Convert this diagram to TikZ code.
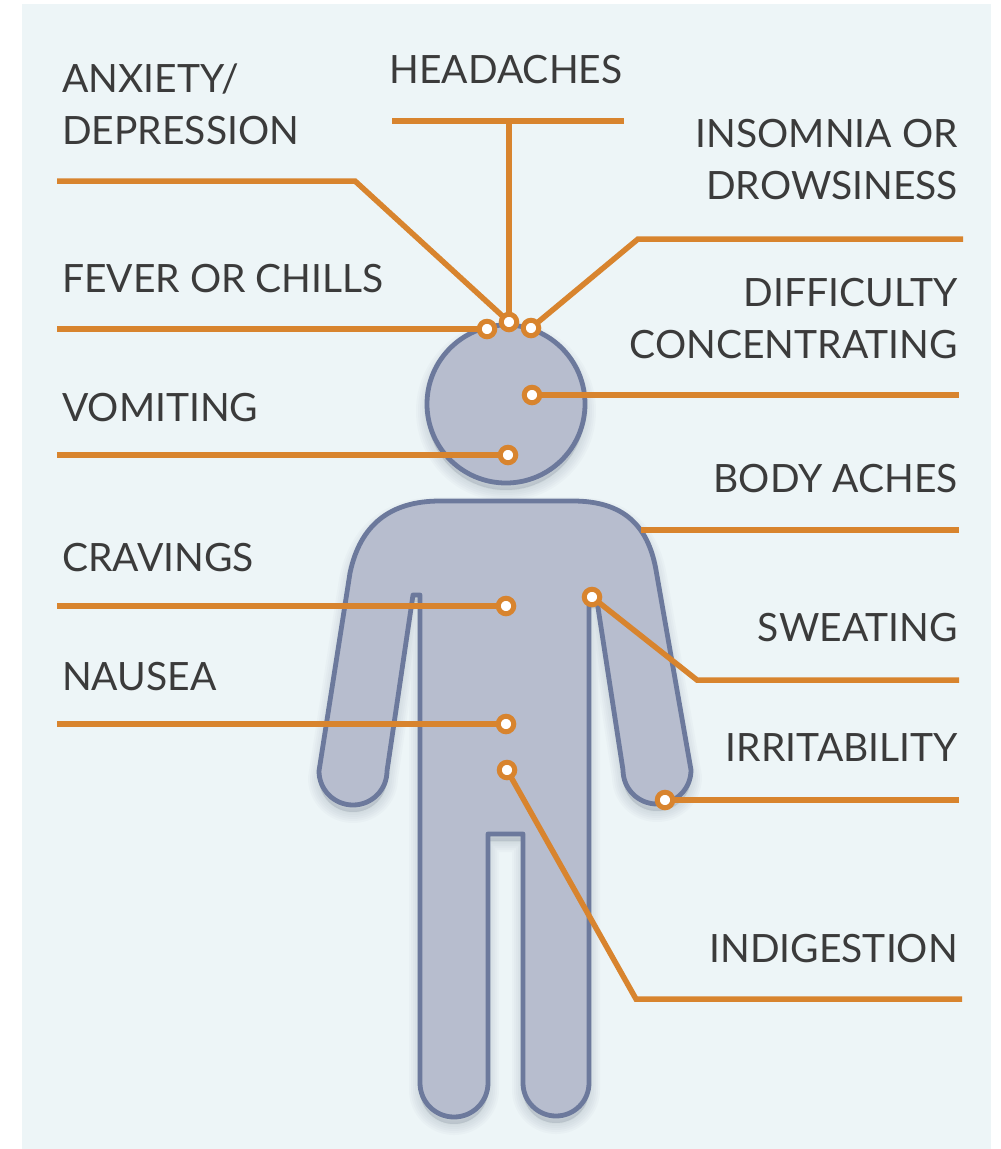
\documentclass[tikz,border=0pt]{standalone}
\usepackage{fontspec}
\setmainfont{Lato}
\definecolor{panelbg}{HTML}{EDF5F7}
\definecolor{bodyfill}{HTML}{B7BDCE}
\definecolor{bodyline}{HTML}{6C799C}
\definecolor{shade}{HTML}{5A6A78}
\definecolor{wire}{HTML}{D8842E}
\definecolor{ink}{HTML}{3B3B3B}
\pgfdeclarelayer{panel}
\pgfdeclarelayer{figure}
\pgfdeclarelayer{wires}
\pgfsetlayers{panel,figure,wires,main}
\tikzset{
  silhouette/.style={fill=bodyfill, draw=bodyline, line width=4.8pt, line join=round},
  wireline/.style={draw=wire, line width=5.5pt},
  dot/.style={circle, draw=wire, fill=white, line width=5pt, minimum size=15.5pt, inner sep=0pt},
  label/.style={text=ink, font=\fontsize{39}{52}\selectfont, inner sep=0pt},
  lab left/.style={label, anchor=base west, align=left},
  lab right/.style={label, anchor=base east, align=right}
}
% outline of the head and of the body
\newcommand\headpath{(506,404) circle[radius=79]}
\newcommand\bodypath{(440,501) -- (573,501)
    .. controls (623,501) and (648,525) .. (656,570)
    -- (691,770) arc[start angle=0, end angle=180, radius=34]
    -- (597,601) -- (589,601)
    -- (589,1083) arc[start angle=0, end angle=180, radius=33]
    -- (523,834) -- (488,834)
    -- (488,1083) arc[start angle=0, end angle=180, radius=34]
    -- (420,595) -- (413,595)
    -- (387,771) arc[start angle=0, end angle=180, radius=34]
    -- (350,573)
    .. controls (360,525) and (390,501) .. (440,501) -- cycle}
\begin{document}
\begin{tikzpicture}[x=1pt, y=-1pt]
\useasboundingbox (0,0) rectangle (1001,1149);
\begin{pgfonlayer}{panel}
  \fill[panelbg] (22,4) rectangle (991,1149);
\end{pgfonlayer}

% soft shadow under the silhouette, then the silhouette itself
\begin{pgfonlayer}{figure}
  \foreach \w in {22,18,14,10,6,2}{
    \path[fill=shade, draw=shade, fill opacity=0.03, draw opacity=0.03,
          line width=\w pt, line join=round, shift={(0,7)}] \headpath;
    \path[fill=shade, draw=shade, fill opacity=0.03, draw opacity=0.03,
          line width=\w pt, line join=round, shift={(0,7)}] \bodypath;
  }
  \path[silhouette] \headpath;
  \path[silhouette] \bodypath;
\end{pgfonlayer}

% symptom markers
\node[dot] (fever)  at (487,329) {};
\node[dot] (crown)  at (509,322) {};
\node[dot] (sleep)  at (531,328) {};
\node[dot] (focus)  at (532,395) {};
\node[dot] (vomit)  at (508,455) {};
\node[dot] (crave)  at (506,606) {};
\node[dot] (sweat)  at (592,597) {};
\node[dot] (nausea) at (506,724) {};
\node[dot] (gut)    at (507,770) {};
\node[dot] (irrit)  at (665,800) {};

% free ends of the leader lines
\coordinate (anxA) at (57,181);   \coordinate (anxB) at (355,181);
\coordinate (headL) at (392,121); \coordinate (headR) at (624,121);
\coordinate (headT) at (509,121);
\coordinate (insA) at (963,239);  \coordinate (insB) at (638,239);
\coordinate (fevA) at (57,329);
\coordinate (focA) at (959,395);
\coordinate (vomA) at (57,455);
\coordinate (achA) at (959,530);  \coordinate (achB) at (641,530);
\coordinate (craA) at (57,606);
\coordinate (swtB) at (697,680);  \coordinate (swtA) at (959,680);
\coordinate (nauA) at (57,724);
\coordinate (irrA) at (959,800);
\coordinate (indB) at (636,999);  \coordinate (indA) at (962,999);

\begin{pgfonlayer}{wires}
  \draw[wireline] (anxA) -- (anxB) -- (crown.center);
  \draw[wireline] (headL) -- (headR);
  \draw[wireline] (headT) -- (crown.center);
  \draw[wireline] (insA) -- (insB) -- (sleep.center);
  \draw[wireline] (fevA) -- (fever.center);
  \draw[wireline] (focus.center) -- (focA);
  \draw[wireline] (vomA) -- (vomit.center);
  \draw[wireline] (achB) -- (achA);
  \draw[wireline] (craA) -- (crave.center);
  \draw[wireline] (sweat.center) -- (swtB) -- (swtA);
  \draw[wireline] (nauA) -- (nausea.center);
  \draw[wireline] (irrit.center) -- (irrA);
  \draw[wireline] (gut.center) -- (indB) -- (indA);
\end{pgfonlayer}

% labels (a multi-line label sits on the baseline of its last line)
\node[lab left]  (tAnx)   at (62,144)  {ANXIETY/\\DEPRESSION};
\node[label, anchor=base] (tHead) at (506,83) {HEADACHES};
\node[lab right] (tIns)   at (958,199) {INSOMNIA OR\\DROWSINESS};
\node[lab left]  (tFev)   at (62,292)  {FEVER OR CHILLS};
\node[lab right] (tFoc)   at (958,358) {DIFFICULTY\\CONCENTRATING};
\node[lab left]  (tVom)   at (62,421)  {VOMITING};
\node[lab right] (tAch)   at (958,492) {BODY ACHES};
\node[lab left]  (tCra)   at (62,571)  {CRAVINGS};
\node[lab right] (tSwt)   at (958,641) {SWEATING};
\node[lab left]  (tNau)   at (62,690)  {NAUSEA};
\node[lab right] (tIrr)   at (958,761) {IRRITABILITY};
\node[lab right] (tInd)   at (958,962) {INDIGESTION};
\end{tikzpicture}
\end{document}
